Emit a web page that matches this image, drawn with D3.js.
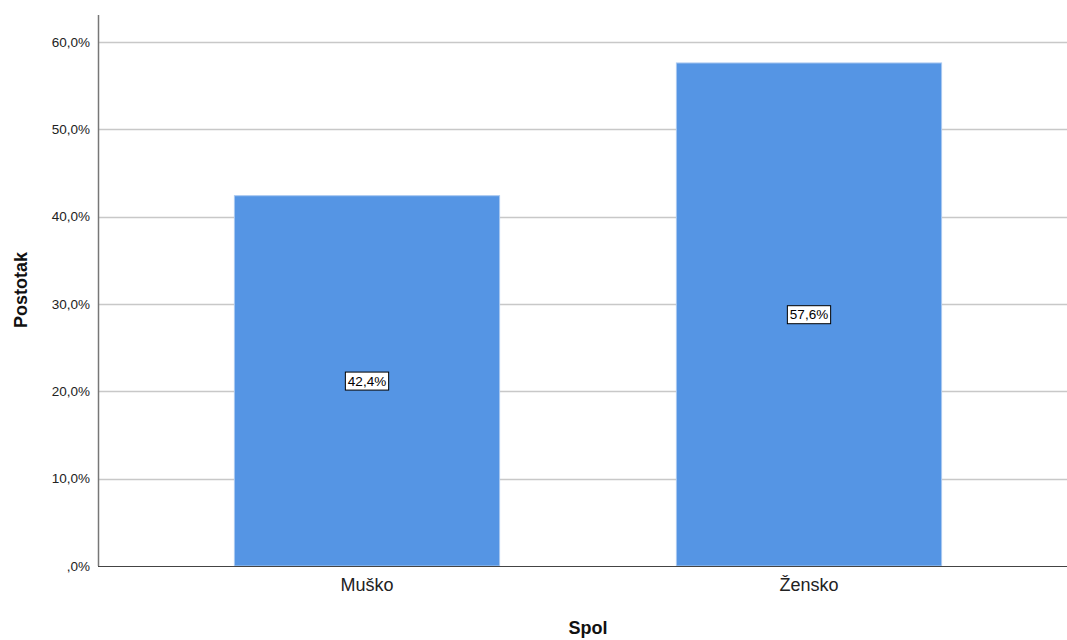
<!DOCTYPE html>
<html><head><meta charset="utf-8">
<script src="https://cdn.jsdelivr.net/npm/d3@7"></script>
<style>body{margin:0;background:#fff}svg{display:block;font-family:"Liberation Sans",Arial,sans-serif}</style>
</head><body>
<svg id="c" width="1067" height="640"></svg>
<script>
const categories = ["Muško", "Žensko"];
const values = [42.4, 57.6];
const yTicks = [0, 10, 20, 30, 40, 50, 60];

const fmt = v => (v === 0 ? ",0" : v.toFixed(1).replace(".", ",")) + "%";
const svg = d3.select("#c");
const x0 = 98, x1 = 1067, yTop = 15, yBase = 566;
const y = d3.scaleLinear().domain([0, 60]).range([yBase, 42]);
const x = d3.scaleBand().domain(categories).range([146, 1030]).paddingInner(0.4).paddingOuter(0.2);

// gridlines
svg.append("g").selectAll("line").data(yTicks.filter(d => d > 0)).join("line")
  .attr("x1", x0).attr("x2", x1).attr("y1", d => Math.round(y(d)) + 0.5).attr("y2", d => Math.round(y(d)) + 0.5)
  .attr("stroke", "#c8c8c8").attr("stroke-width", 1.5);

// y axis
const ya = svg.append("g").attr("transform", `translate(${x0},0)`)
  .call(d3.axisLeft(y).tickValues(yTicks).tickFormat(fmt).tickSize(0).tickPadding(8));
ya.select(".domain").remove();
ya.selectAll("text").attr("font-size", 13.5).attr("fill", "#222").attr("font-family", "Liberation Sans, Arial, sans-serif");

// bars
svg.append("g").selectAll("rect").data(values).join("rect")
  .attr("x", (d, i) => x(categories[i])).attr("width", x.bandwidth())
  .attr("y", d => y(d)).attr("height", d => yBase - y(d))
  .attr("fill", "#5595e4").attr("stroke", "#a9c8f0").attr("stroke-width", 1);

// axis lines
svg.append("line").attr("x1", x0 + 0.5).attr("x2", x0 + 0.5).attr("y1", yTop).attr("y2", yBase)
  .attr("stroke", "#777").attr("stroke-width", 1.5);
svg.append("line").attr("x1", x0).attr("x2", x1).attr("y1", yBase + 0.5).attr("y2", yBase + 0.5)
  .attr("stroke", "#444").attr("stroke-width", 1.2);

// x axis labels
const xa = svg.append("g").attr("transform", `translate(0,${yBase})`)
  .call(d3.axisBottom(x).tickSize(0).tickPadding(12));
xa.select(".domain").remove();
xa.selectAll("text").attr("font-size", 18).attr("fill", "#222").attr("font-family", "Liberation Sans, Arial, sans-serif");

// value labels
const lg = svg.append("g").selectAll("g").data(values).join("g")
  .attr("transform", (d, i) => `translate(${x(categories[i]) + x.bandwidth() / 2},${(y(d) + yBase) / 2})`);
lg.each(function(d) {
  const g = d3.select(this);
  const t = g.append("text").text(fmt(d)).attr("font-size", 13.5).attr("text-anchor", "middle")
    .attr("dy", "0.35em").attr("fill", "#000");
  const bb = t.node().getBBox();
  g.insert("rect", "text").attr("x", bb.x - 2.5).attr("y", bb.y - 1.5)
    .attr("width", bb.width + 5).attr("height", bb.height + 3)
    .attr("fill", "#fff").attr("stroke", "#000").attr("stroke-width", 1);
});

// titles
svg.append("text").attr("x", 588).attr("y", 634).attr("text-anchor", "middle")
  .attr("font-size", 18).attr("font-weight", "bold").attr("fill", "#111").text("Spol");
svg.append("text").attr("transform", "translate(27,290) rotate(-90)").attr("text-anchor", "middle")
  .attr("font-size", 18).attr("font-weight", "bold").attr("fill", "#111").text("Postotak");
</script>
</body></html>
